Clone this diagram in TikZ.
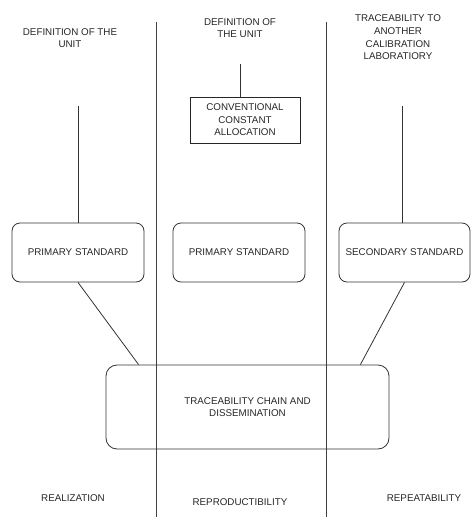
\documentclass[tikz,border=0pt]{standalone}
\usepackage{fontspec}
\setmainfont{Liberation Sans}
\usetikzlibrary{calc}
\begin{document}
\begin{tikzpicture}[x=1pt,y=-1pt,
  every node/.style={font=\fontsize{9.8}{12.6}\selectfont, align=center, inner sep=0pt, text=black!85},
  ln/.style={draw=black!80, line width=0.8pt},
  sep/.style={draw=black!75, line width=0.9pt},
  rbox/.style={draw=black!80, line width=0.8pt, rounded corners=8pt, minimum width=132pt, minimum height=59pt},
  sbox/.style={draw=black!85, line width=0.8pt, minimum width=110pt, minimum height=46pt}]
\useasboundingbox (0,0) rectangle (471,517);
% separators
\coordinate (s1t) at (156,22); \coordinate (s1b) at (156,517);
\coordinate (s2t) at (326,22); \coordinate (s2b) at (326,517);
\draw[sep] (s1t) -- (s1b);
\draw[sep] (s2t) -- (s2b);
% top texts
\node (t1) at (70,38) {DEFINITION OF THE\\UNIT};
\node (t2) at (240,28) {DEFINITION OF\\THE UNIT};
\node (t3) at (398,37.5) {TRACEABILITY TO\\ANOTHER\\CALIBRATION\\LABORATIORY};
% boxes
\node[sbox] (conv) at (245,120) {CONVENTIONAL\\CONSTANT\\ALLOCATION};
\node[rbox] (p1) at (78,252.5) {PRIMARY STANDARD};
\node[rbox] (p2) at (239,252.5) {PRIMARY STANDARD};
\node[rbox, minimum width=131pt] (p3) at (404.5,252.5) {SECONDARY STANDARD};
\node[draw=black!80, line width=0.8pt, rounded corners=11pt, minimum width=283pt, minimum height=84pt] (big) at (247.5,407) {TRACEABILITY CHAIN AND\\DISSEMINATION};
% bottom texts
\node (b1) at (73,498) {REALIZATION};
\node (b2) at (240,502) {REPRODUCTIBILITY};
\node (b3) at (424,498) {REPEATABILITY};
% connectors
\coordinate (c1) at (78,106);
\coordinate (c2) at (240,64);
\coordinate (c3) at (402,106);
\draw[ln] (c1) -- (c1 |- p1.north);
\draw[ln] (c2) -- (c2 |- conv.north);
\draw[ln] ($(conv.south)+(-4,0)$) -- ($(conv.south)+(-4,0)$ |- p2.north);
\draw[ln] (c3) -- (c3 |- p3.north);
\draw[ln] (p1.south) -- ($(big.north west)+(33,0)$);
\draw[ln] ($(p2.south)+(-1,0)$) -- ($(p2.south)+(-1,0)$ |- big.north);
\draw[ln] (p3.south) -- ($(big.north east)+(-29,0)$);
\end{tikzpicture}
\end{document}
